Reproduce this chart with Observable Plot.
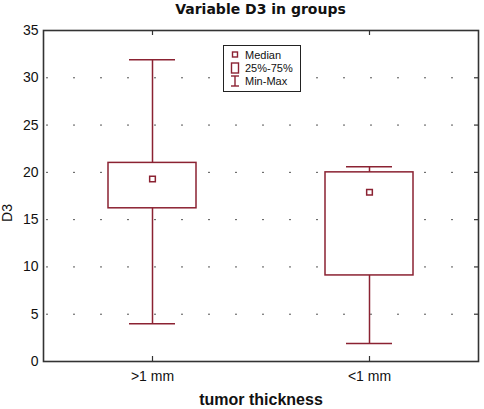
<!DOCTYPE html>
<html>
<head>
<meta charset="utf-8">
<script src="https://cdn.jsdelivr.net/npm/d3@7"></script>
<script src="https://cdn.jsdelivr.net/npm/@observablehq/plot@0.6"></script>
<style>
  html, body { margin: 0; padding: 0; background: #fff; }
  #wrap { position: relative; width: 484px; height: 409px; font-family: "Liberation Sans", Arial, sans-serif; }
  #title { position: absolute; left: 43px; top: 1px; width: 435px; text-align: center;
           font-family: "DejaVu Sans", Verdana, sans-serif; font-weight: bold; font-size: 14px; line-height: 16px; color: #111; }
  #legend { position: absolute; left: 223px; top: 45px; width: 78px; height: 47px; border: 1px solid #222; background: #fff; box-sizing: border-box; }
  #legend .row { position: absolute; left: 0; height: 12px; width: 78px; font-size: 11px; line-height: 12px; color: #111; }
  #legend .row span { position: absolute; left: 21px; top: 0; }
  #legend .row svg { position: absolute; left: 4px; top: 0; }
</style>
</head>
<body>
<div id="wrap">
  <div id="chart"></div>
  <div id="title"></div>
  <div id="legend"></div>
</div>
<script>
// ---- data ----
const categories = [">1 mm", "<1 mm"];
const medians = [19.3, 17.9];
const q1 = [16.2, 9.1];
const q3 = [21.0, 20.0];
const mins = [4.0, 1.9];
const maxs = [31.9, 20.6];
const yTicks = [0, 5, 10, 15, 20, 25, 30, 35];
const gridTicks = [5, 10, 15, 20, 25, 30];
const titleText = "Variable D3 in groups";
const xLabel = "tumor thickness";
const yLabel = "D3";
const legendLabels = ["Median", "25%-75%", "Min-Max"];

const red = "#8b2232";
const ink = "#333";

const rows = categories.map((c, i) => ({cat: c, med: medians[i], q1: q1[i], q3: q3[i], min: mins[i], max: maxs[i]}));

const chart = Plot.plot({
  width: 484,
  height: 409,
  marginTop: 30,
  marginBottom: 48,
  marginLeft: 43,
  marginRight: 6,
  style: {fontFamily: "Liberation Sans, Arial, sans-serif", fontSize: "14px", color: "#111", background: "#fff"},
  x: {type: "band", domain: categories, paddingInner: 0.595, paddingOuter: 0.2975, label: null},
  y: {domain: [0, 35], label: null},
  marks: [
    Plot.gridY(gridTicks, {stroke: "#555", strokeOpacity: 1, strokeDasharray: "2,25", strokeDashoffset: -3}),
    Plot.axisY({ticks: yTicks, tickSize: 0, tickPadding: 5, fontSize: 14, label: null}),
    Plot.axisX({tickSize: 0, tickPadding: 10, fontSize: 14, label: null}),
    Plot.ruleX(rows, {x: "cat", y1: "min", y2: "max", stroke: red, strokeWidth: 1.5}),
    Plot.barY(rows, {x: "cat", y1: "q1", y2: "q3", fill: "white", stroke: red, strokeWidth: 1.5}),
    Plot.tickY(rows, {x: "cat", y: "max", stroke: red, strokeWidth: 1.5, insetLeft: 21, insetRight: 21}),
    Plot.tickY(rows, {x: "cat", y: "min", stroke: red, strokeWidth: 1.5, insetLeft: 21, insetRight: 21}),
    Plot.dot(rows, {x: "cat", y: "med", symbol: "square", r: 3.2, stroke: red, fill: "white", strokeWidth: 1.5}),
    Plot.tickX(categories, {x: d => d, insetTop: 326, stroke: ink, strokeWidth: 1.2}),
    Plot.tickX(categories, {x: d => d, insetBottom: 326, stroke: ink, strokeWidth: 1.2}),
    Plot.tickY(gridTicks, {y: d => d, insetLeft: 431, stroke: ink, strokeWidth: 1.2}),
    Plot.frame({stroke: ink, strokeWidth: 1.6}),
    Plot.text([yLabel], {frameAnchor: "left", textAnchor: "middle", rotate: -90, dx: -36, dy: 17, fontSize: 14, fill: "#111"}),
    Plot.text([xLabel], {frameAnchor: "bottom", textAnchor: "middle", dy: 43, fontSize: 16, fontWeight: "bold", fill: "#111"})
  ]
});
document.getElementById("chart").appendChild(chart);
document.getElementById("title").textContent = titleText;

// legend (not data)
const icons = [
  `<svg width="14" height="12"><rect x="4.5" y="3" width="5" height="5" fill="white" stroke="${red}" stroke-width="1.4"/></svg>`,
  `<svg width="14" height="12"><rect x="3.5" y="1" width="7" height="10" fill="white" stroke="${red}" stroke-width="1.4"/></svg>`,
  `<svg width="14" height="12"><line x1="3" x2="11" y1="1" y2="1" stroke="${red}" stroke-width="1.4"/><line x1="7" x2="7" y1="1" y2="11" stroke="${red}" stroke-width="1.4"/><line x1="3" x2="11" y1="11" y2="11" stroke="${red}" stroke-width="1.4"/></svg>`
];
const tops = [3, 16, 29];
const leg = document.getElementById("legend");
legendLabels.forEach((t, i) => {
  const r = document.createElement("div");
  r.className = "row";
  r.style.top = tops[i] + "px";
  r.innerHTML = icons[i] + `<span></span>`;
  r.querySelector("span").textContent = t;
  leg.appendChild(r);
});
</script>
</body>
</html>
